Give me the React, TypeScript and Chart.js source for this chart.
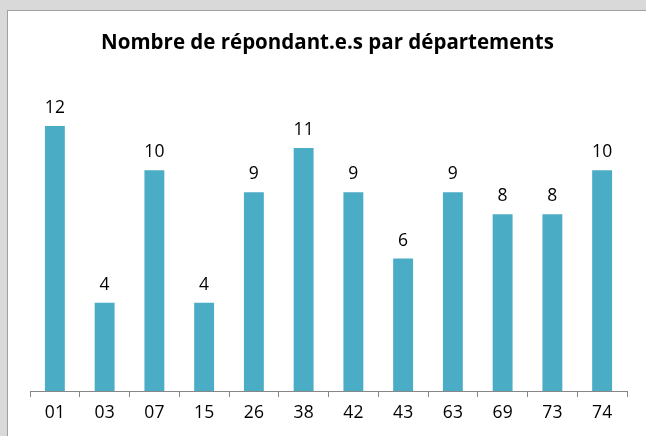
import React, { useEffect, useRef } from "react";
import { Chart, registerables } from "chart.js";

Chart.register(...registerables);

const categories = ["01", "03", "07", "15", "26", "38", "42", "43", "63", "69", "73", "74"];
const values = [12, 4, 10, 4, 9, 11, 9, 6, 9, 8, 8, 10];
const title = "Nombre de répondant.e.s par départements";

const FONT = "'Open Sans', Lato, sans-serif";

export default function App() {
  const ref = useRef<HTMLCanvasElement | null>(null);

  useEffect(() => {
    const canvas = ref.current;
    if (!canvas) return;

    const labelPlugin = {
      id: "valueLabels",
      afterDatasetsDraw(chart: any) {
        const ctx = chart.ctx;
        const meta = chart.getDatasetMeta(0);
        ctx.save();
        ctx.fillStyle = "#000";
        ctx.font = `17.5px ${FONT}`;
        ctx.textAlign = "center";
        ctx.textBaseline = "alphabetic";
        meta.data.forEach((el: any, i: number) => {
          ctx.fillText(String(values[i]), el.x, el.y - 13);
        });
        ctx.restore();
      },
    };

    const titlePlugin = {
      id: "customTitle",
      afterDraw(chart: any) {
        const ctx = chart.ctx;
        ctx.save();
        ctx.fillStyle = "#000";
        ctx.font = `bold 20.5px ${FONT}`;
        ctx.textAlign = "center";
        ctx.textBaseline = "alphabetic";
        ctx.fillText(title, chart.width / 2, 38);
        ctx.restore();
      },
    };

    const chart = new Chart(canvas, {
      type: "bar",
      data: {
        labels: categories,
        datasets: [
          {
            data: values,
            backgroundColor: "#4BACC6",
            borderWidth: 0,
            barPercentage: 0.4,
            categoryPercentage: 1,
          },
        ],
      },
      options: {
        responsive: false,
        animation: false,
        layout: { padding: { left: 21, right: 19, top: 115, bottom: 6 } },
        plugins: {
          legend: { display: false },
          title: { display: false },
          tooltip: { enabled: false },
        },
        scales: {
          x: {
            grid: {
              display: true,
              drawOnChartArea: false,
              drawTicks: true,
              offset: true,
              tickLength: 6,
              color: "#878787",
            },
            border: { display: true, color: "#878787", width: 1 },
            ticks: {
              color: "#000",
              font: { family: FONT, size: 17.5 },
              padding: 6,
              maxRotation: 0,
              autoSkip: false,
            },
          },
          y: {
            display: false,
            min: 0,
            max: 12,
          },
        },
      },
      plugins: [labelPlugin, titlePlugin],
    });

    return () => chart.destroy();
  }, []);

  return (
    <div
      style={{
        position: "fixed",
        left: 0,
        top: 0,
        width: 646,
        height: 436,
        background: "#d9d9d9",
        overflow: "hidden",
      }}
    >
      <div
        style={{
          position: "absolute",
          left: 7,
          top: 10,
          width: 639,
          height: 426,
          borderLeft: "1px solid #a0a0a0",
          borderTop: "1px solid #a0a0a0",
          background: "#fff",
        }}
      >
        <canvas
          ref={ref}
          width={637}
          height={425}
          style={{ position: "absolute", left: 1, top: 0, width: 637, height: 425 }}
        />
      </div>
    </div>
  );
}
